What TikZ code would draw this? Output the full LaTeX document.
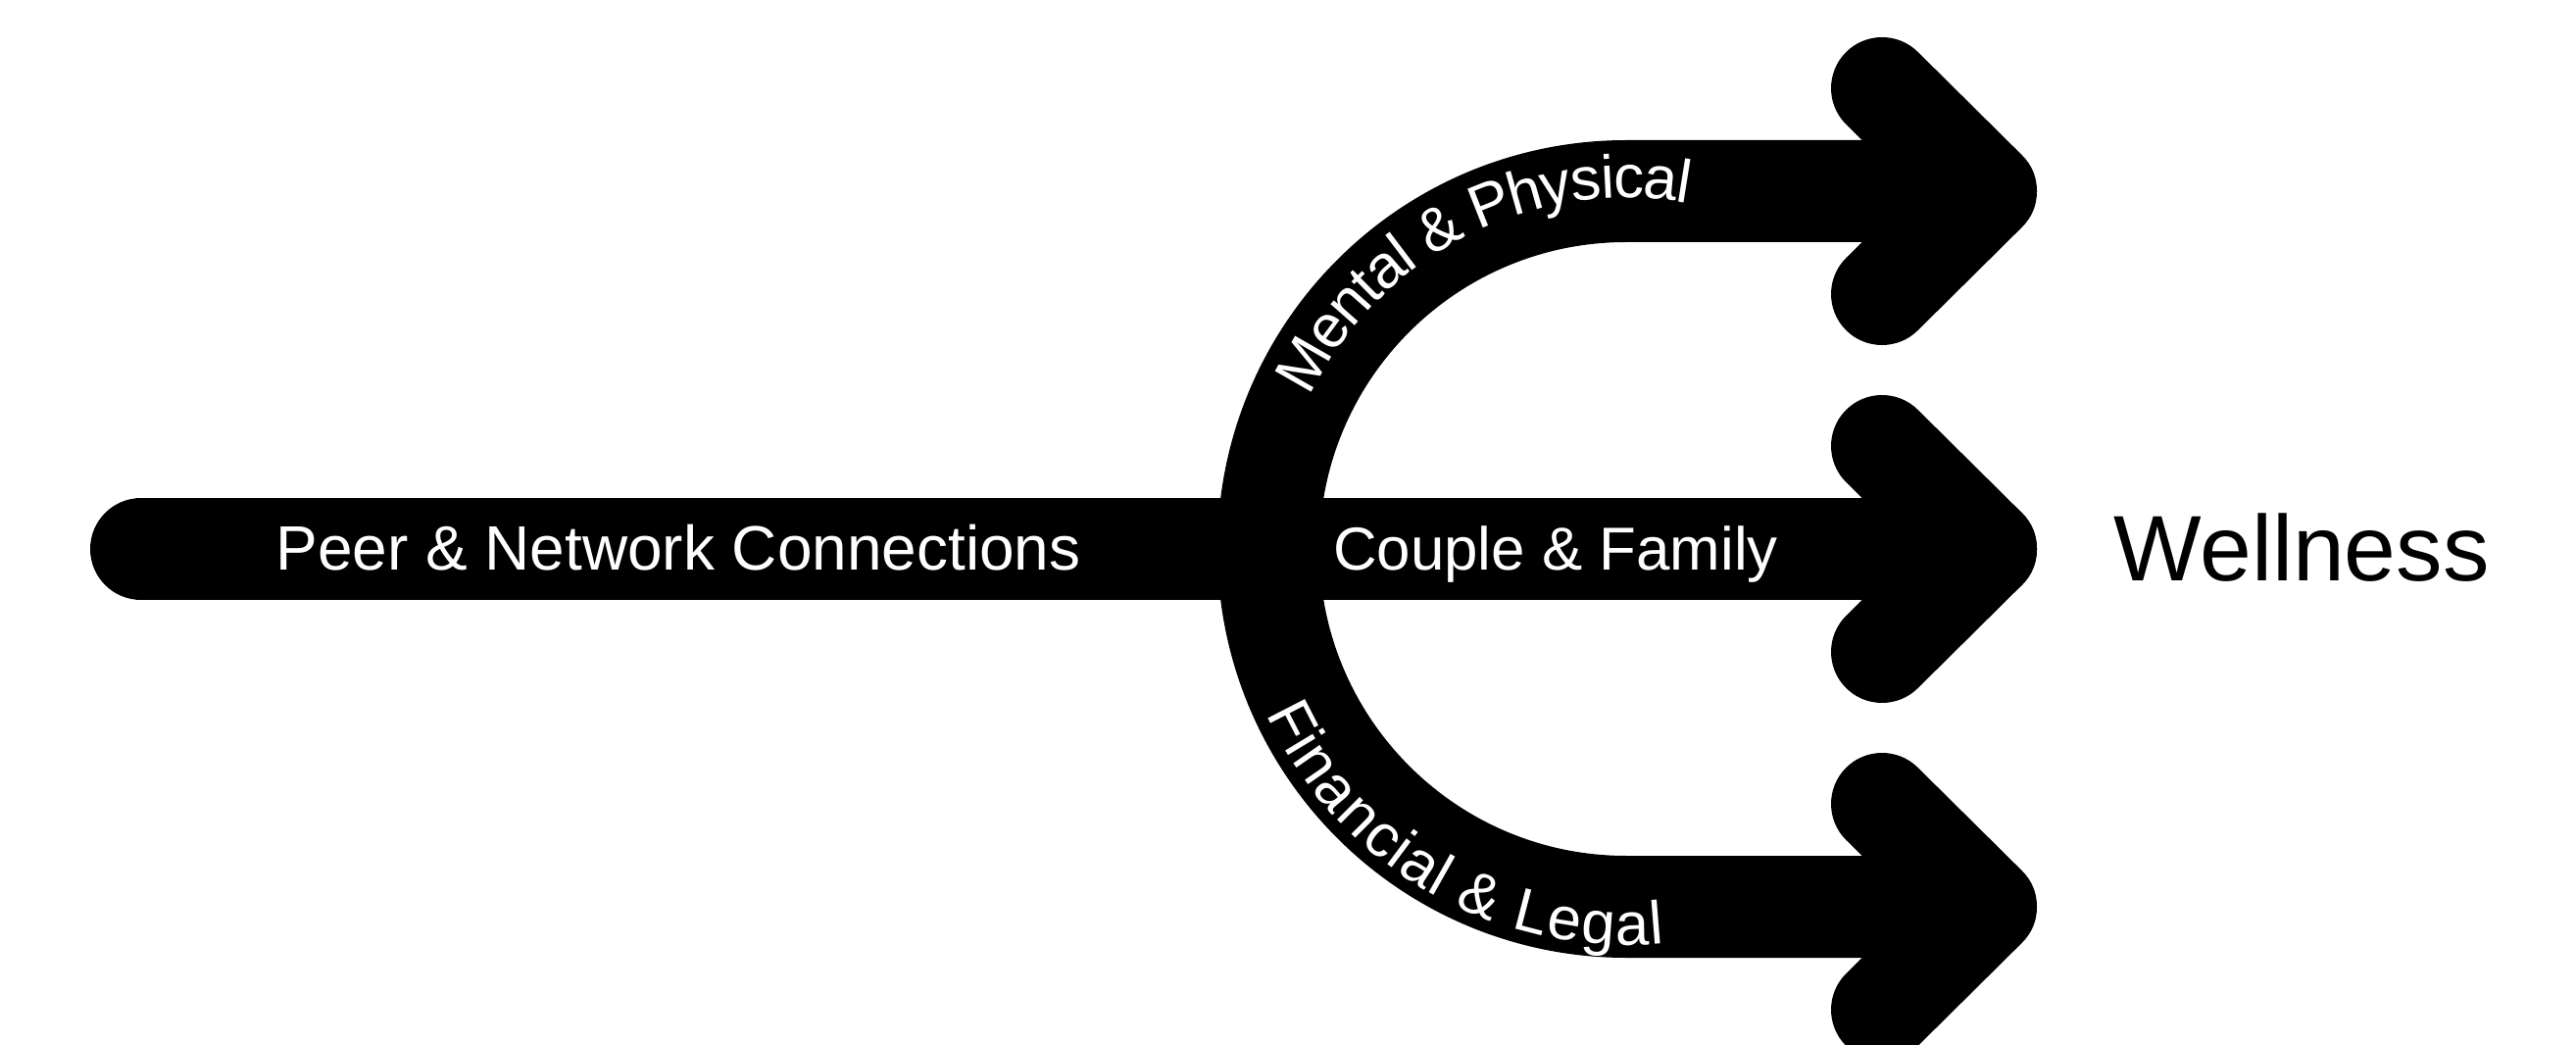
\documentclass[tikz,border=0pt]{standalone}
\usepackage{fontspec}
\setmainfont{Liberation Sans}
\usetikzlibrary{decorations.text}

\tikzset{
  band/.style={line width=1.04cm},
  head/.style={line width=1.04cm, line cap=round, line join=round},
  lbl/.style={text=white, font=\fontsize{17.6}{20}\selectfont, anchor=base, inner sep=0pt},
}

\begin{document}
\begin{tikzpicture}

\useasboundingbox (0, 0) rectangle (26.28, 10.65);
\clip (0, 0) rectangle (26.28, 10.65);

\def\prong(#1,#2){
  \begin{scope}[shift={(#1,#2)}]
    \draw[head] (-1.06, 1.05) -- (0, 0) -- (-1.06, -1.05);
  \end{scope}
}

\coordinate (hub) at (16.59, 5.05);
\coordinate (start) at (1.44, 5.05);
\coordinate (low) at (16.59, 1.40);
\coordinate (toptip) at (20.26, 8.70);
\coordinate (midtip) at (20.26, 5.05);
\coordinate (lowtip) at (20.26, 1.40);

% long bar through the middle
\draw[band, line cap=round] (start) -- (midtip);
% the fork
\draw[band] (lowtip) -- (low) arc[start angle=270, end angle=90, radius=3.65] -- (toptip);

\prong(20.26, 8.70);
\prong(20.26, 5.05);
\prong(20.26, 1.40);

\node[lbl, font=\fontsize{18.2}{20}\selectfont] (peer) at (6.92, 4.83) {Peer \& Network Connections};
\node[lbl] (family) at (15.87, 4.83) {Couple \& Family};
\node[anchor=base, inner sep=0pt, font=\fontsize{27}{30}\selectfont] (wellness) at (23.48, 4.72) {Wellness};

% texts on the curve
\path[decorate, decoration={text along path, text color=white, text align=center, raise=-0.22cm,
    text={|\fontsize{17.6}{20}\selectfont|Mental {\&} Physical}}]
  ([shift={(167:3.80)}]hub) arc[start angle=167, end angle=67, radius=3.80];
\path[decorate, decoration={text along path, text color=white, text align=center, raise=-0.22cm,
    text={|\fontsize{17.6}{20}\selectfont|Financial {\&} Legal}}]
  ([shift={(190:3.82)}]hub) arc[start angle=190, end angle=290, radius=3.82];

% \prong(20.26, -2.25);

\end{tikzpicture}
\end{document}
